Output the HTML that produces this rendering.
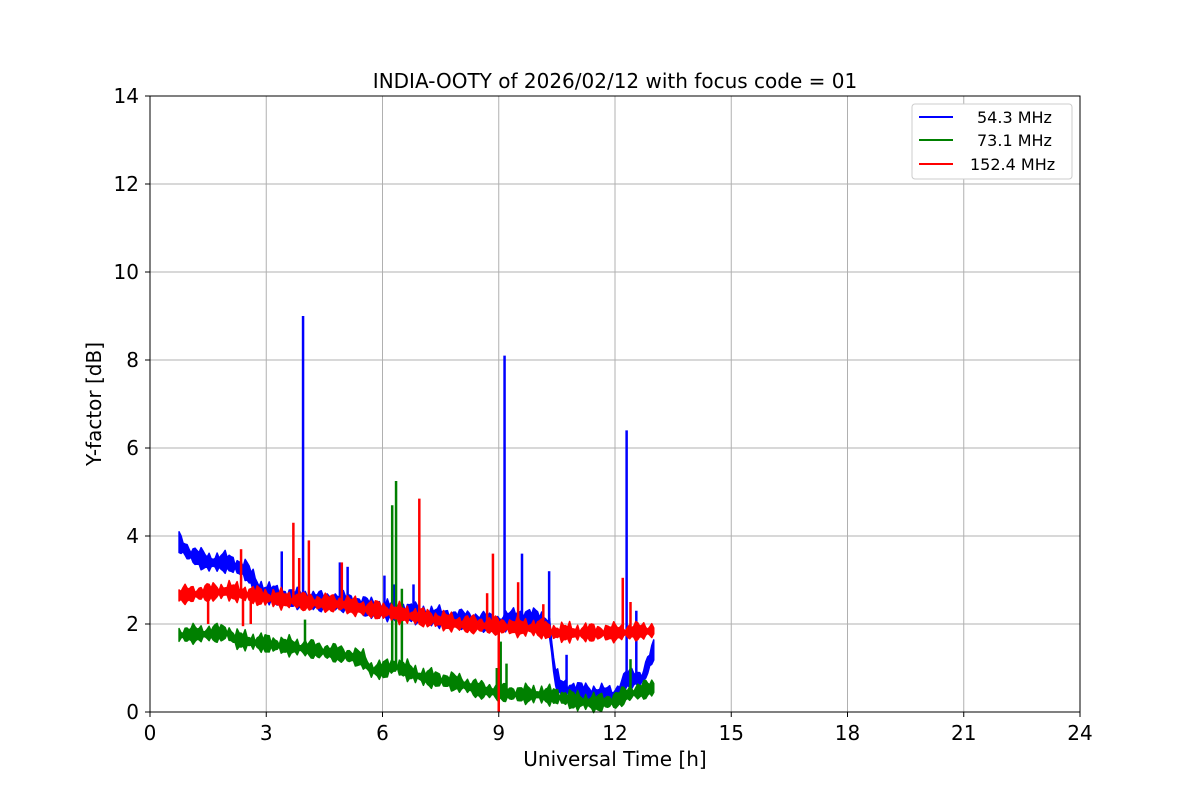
<!DOCTYPE html>
<html><head><meta charset="utf-8"><style>
body{margin:0;background:#fff;font-family:"Liberation Sans","DejaVu Sans",sans-serif;}
svg text{font-family:"DejaVu Sans","Liberation Sans",sans-serif;}
</style></head><body>
<svg id="chart" width="1200" height="800" xmlns="http://www.w3.org/2000/svg">
<rect width="1200" height="800" fill="#fff"/>
<g id="grid"></g>
<g id="series"></g>
<rect x="150" y="96" width="930" height="616" fill="none" stroke="#000" stroke-width="1"/>
<g id="ticks"></g>
<text x="615" y="88" font-size="20" text-anchor="middle">INDIA-OOTY of 2026/02/12 with focus code = 01</text>
<text x="615" y="766" font-size="20" text-anchor="middle">Universal Time [h]</text>
<text transform="translate(101,404) rotate(-90)" font-size="20" text-anchor="middle">Y-factor [dB]</text>
<g>
<rect x="912" y="104" width="160" height="75" rx="3" fill="#fff" stroke="#ccc"/>
<g><line x1="919" y1="117" x2="953" y2="117" stroke="blue" stroke-width="2"/><text x="977" y="123" font-size="16">54.3 MHz</text></g>
<g><line x1="919" y1="140" x2="953" y2="140" stroke="green" stroke-width="2"/><text x="977" y="146" font-size="16">73.1 MHz</text></g>
<g><line x1="919" y1="164" x2="953" y2="164" stroke="red" stroke-width="2"/><text x="970" y="170" font-size="16">152.4 MHz</text></g>
</g>
</svg>
<script>
const xTicks=[0,3,6,9,12,15,18,21,24];
const yTicks=[0,2,4,6,8,10,12,14];
const blueT=[0.75,1,1.5,2,2.5,2.8,3,3.5,4,4.5,5,5.5,6,6.5,7,7.5,8,8.5,9,9.5,10,10.3,10.45,10.6,11,11.5,12,12.3,12.7,13];
const blueV=[3.85,3.6,3.4,3.4,3.2,2.8,2.7,2.6,2.55,2.5,2.5,2.4,2.3,2.3,2.2,2.15,2.1,2.05,2.0,2.15,2.1,2.0,0.8,0.55,0.45,0.4,0.35,0.75,0.75,1.4];
const blueSpikeT=[3.95,3.4,4.9,5.1,6.05,6.3,6.8,9.15,9.6,10.3,10.75,12.3,12.55];
const blueSpikeV=[9.0,3.65,3.4,3.3,3.1,2.9,2.9,8.1,3.6,3.2,1.3,6.4,2.3];
const greenT=[0.75,2,2.2,3,4,5,5.5,5.7,6,6.3,6.6,7,8,8.5,9,9.5,10,10.5,11,11.5,12,12.3,13];
const greenV=[1.75,1.8,1.65,1.55,1.45,1.3,1.2,0.95,0.95,1.05,0.95,0.8,0.65,0.5,0.45,0.4,0.4,0.35,0.25,0.2,0.25,0.4,0.55];
const greenSpikeT=[6.25,6.35,6.5,9.05,9.2,8.95,4.0,12.4];
const greenSpikeV=[4.7,5.25,2.8,1.6,1.1,1.0,2.1,1.2];
const redT=[0.75,2,3,4,5,5.5,6,7,8,9,10,10.5,11,12,13];
const redV=[2.65,2.75,2.6,2.5,2.45,2.35,2.3,2.15,2.0,1.95,1.9,1.8,1.8,1.8,1.85];
const redSpikeT=[2.35,3.7,3.85,4.1,4.95,6.95,8.7,8.85,9.5,10.15,12.2,12.4,1.5,2.4,2.6,9.0];
const redSpikeV=[3.7,4.3,3.5,3.9,3.4,4.85,2.7,3.6,2.95,2.45,3.05,2.5,2.0,1.95,2.0,0.0];
const X=t=>150+t*930/24, Y=v=>712-v*616/14;
const NS="http://www.w3.org/2000/svg";
function mk(tag,attrs,parent){const e=document.createElementNS(NS,tag);for(const k in attrs)e.setAttribute(k,attrs[k]);parent.appendChild(e);return e;}
const grid=document.getElementById('grid'),ticks=document.getElementById('ticks'),series=document.getElementById('series');
xTicks.forEach(t=>{
 const g=mk('line',{x1:X(t),x2:X(t),y1:96,y2:712,stroke:'#b0b0b0','stroke-width':1},grid);
 
 
 mk('line',{x1:X(t),x2:X(t),y1:712,y2:717,stroke:'#000'},ticks);
 const tx=mk('text',{x:X(t),y:740,'font-size':20,'text-anchor':'middle'},ticks);tx.textContent=t;
 
 
});
yTicks.forEach(v=>{
 const g=mk('line',{x1:150,x2:1080,y1:Y(v),y2:Y(v),stroke:'#b0b0b0','stroke-width':1},grid);
 
 
 mk('line',{x1:145,x2:150,y1:Y(v),y2:Y(v),stroke:'#000'},ticks);
 const tx=mk('text',{x:139,y:Y(v)+7,'font-size':20,'text-anchor':'end'},ticks);tx.textContent=v;
 
 
});
function interp(T,V,t){if(t<=T[0])return V[0];for(let i=1;i<T.length;i++)if(t<=T[i])return V[i-1]+(V[i]-V[i-1])*(t-T[i-1])/(T[i]-T[i-1]);return V[V.length-1];}
function band(T,V,hw,color,name,seed){
 // dense sampling with a fixed decorative edge texture (style only)
 const up=[],dn=[];const t0=T[0],t1=T[T.length-1];const n=Math.round((X(t1)-X(t0))/2);
 for(let k=0;k<=n;k++){const t=t0+(t1-t0)*k/n;const v=interp(T,V,t);
  const tex=0.06*Math.sin(k*1.7+seed)+0.05*Math.sin(k*0.53+seed*2)+0.04*Math.sin(k*3.1);
  up.push(X(t)+','+Y(v+hw+tex));dn.push(X(t)+','+Y(v-hw-tex*0.8));}
 const p=mk('polygon',{points:up.concat(dn.reverse()).join(' '),fill:color,stroke:color,'stroke-width':1.5,'stroke-linejoin':'round'},series);
 
 
}
function spikes(T,V,ST,SV,color,name){
 ST.forEach((t,i)=>{const l=mk('line',{x1:X(t),x2:X(t),y1:Y(interp(T,V,t)),y2:Y(SV[i]),stroke:color,'stroke-width':2.5},series);
 
 });
}
band(blueT,blueV,0.15,'blue','series-54mhz',1);spikes(blueT,blueV,blueSpikeT,blueSpikeV,'blue','spike-54mhz');
band(greenT,greenV,0.13,'green','series-73mhz',2);spikes(greenT,greenV,greenSpikeT,greenSpikeV,'green','spike-73mhz');
band(redT,redV,0.13,'red','series-152mhz',3);spikes(redT,redV,redSpikeT,redSpikeV,'red','spike-152mhz');
</script>
</body></html>
